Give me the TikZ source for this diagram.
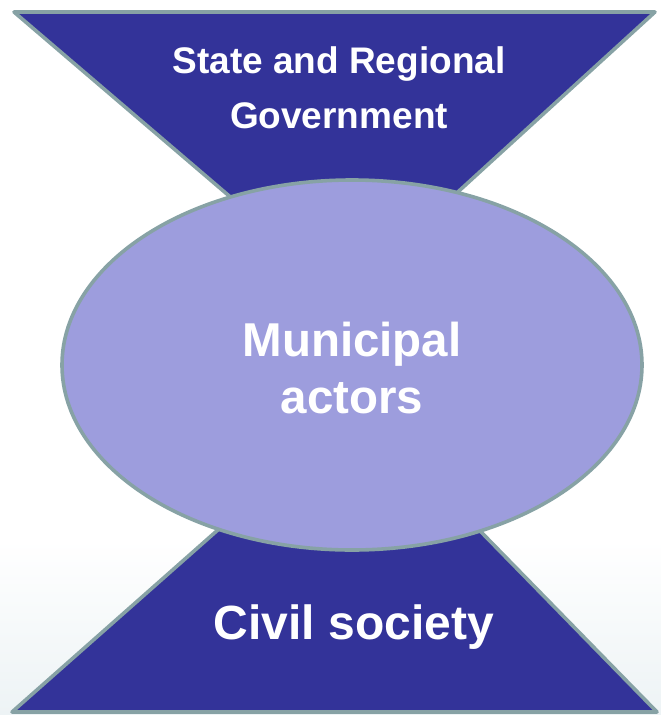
\documentclass[tikz,border=0pt]{standalone}
\usepackage{fontspec}
\setmainfont{Liberation Sans}
\usetikzlibrary{shapes.geometric}
\definecolor{darkfill}{HTML}{333399}
\definecolor{ellfill}{HTML}{9D9DDD}
\definecolor{edgecol}{HTML}{87A2A5}
\definecolor{bgbot}{HTML}{EDF3F5}
\tikzset{
  wedge/.style={fill=darkfill, draw=edgecol, line width=3.6pt, line join=round},
  label/.style={text=white, font=\bfseries, align=center},
}
\begin{document}
\begin{tikzpicture}[x=1pt,y=-1pt]
\useasboundingbox (0,0) rectangle (661,715);
\shade[top color=white, bottom color=bgbot] (0,540) rectangle (661,715);
\draw[wedge] (14,12) -- (655,12) -- (345,295) -- cycle;
\draw[wedge] (12,712) -- (657,712) -- (358,406) -- cycle;
\node[ellipse, fill=ellfill, draw=edgecol, line width=3.6pt, minimum width=580pt, minimum height=370pt, inner sep=0pt] (ell) at (352,365) {};
\node[label, font=\bfseries\fontsize{37}{55}\selectfont] (top) at (339,88) {State and Regional\\Government};
\node[label, font=\bfseries\fontsize{47.5}{57}\selectfont] (mid) at (352,368) {Municipal\\actors};
\node[label, font=\bfseries\fontsize{48}{57}\selectfont] (bot) at (354,627) {Civil society};
\end{tikzpicture}
\end{document}
